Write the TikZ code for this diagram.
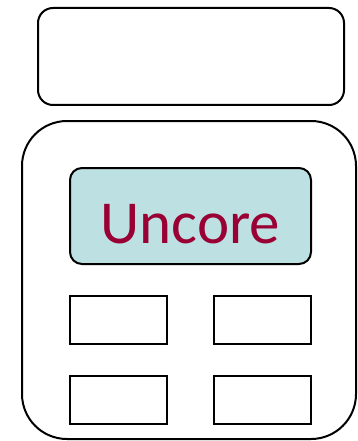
\documentclass[tikz,border=0pt]{standalone}
\usepackage{fontspec}
\setmainfont{Carlito}
\usetikzlibrary{positioning}
\definecolor{uncorefill}{RGB}{189,224,227}
\definecolor{uncoretext}{RGB}{153,0,51}

\begin{document}
\begin{tikzpicture}[
  x=1pt, y=1pt,
  every node/.style={outer sep=0pt, inner sep=0pt},
  box/.style={draw, line width=2pt},
  topbox/.style={box, rounded corners=15pt, minimum width=306pt, minimum height=97pt},
  chipbox/.style={box, rounded corners=45pt, minimum width=334pt, minimum height=318pt},
  uncorebox/.style={box, rounded corners=12pt, fill=uncorefill, text=uncoretext,
    minimum width=241pt, minimum height=96pt, font=\fontsize{61}{70}\selectfont,
    text height=54pt, text depth=0pt},
  corebox/.style={box, minimum width=97pt, minimum height=48pt}
]
\useasboundingbox (0,0) rectangle (358,-441);
\node[topbox] (top) at (191,-56.5) {};
\node[chipbox] (chip) at (189,-280) {};
\node[uncorebox] (uncore) at (190.5,-216) {Uncore};
\node[corebox, below right=32pt and 0pt of uncore.south west] (core1) {};
\node[corebox, below left=32pt and 0pt of uncore.south east] (core2) {};
\node[corebox, below=32pt of core1] (core3) {};
\node[corebox, below=32pt of core2] (core4) {};
\end{tikzpicture}
\end{document}
